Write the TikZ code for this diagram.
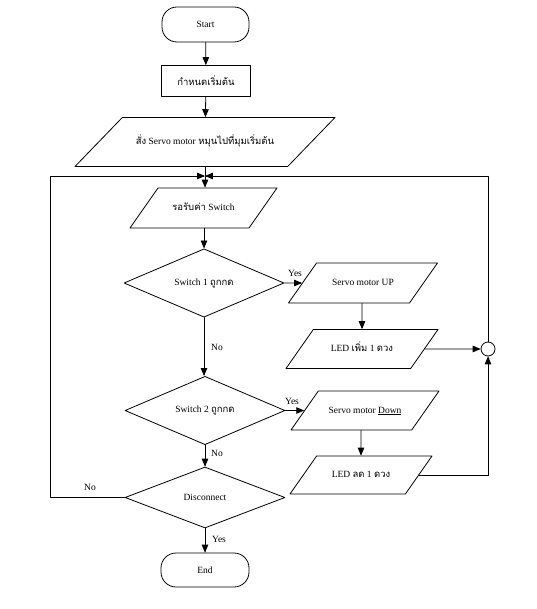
\documentclass[tikz,border=0pt]{standalone}
\usepackage{fontspec}
\setmainfont{Liberation Serif}
\newfontfamily\thaifont[Script=Thai]{Loma}
\newcommand{\thai}[1]{{\thaifont #1}}
\usetikzlibrary{arrows,shapes.geometric}

\begin{document}
\begin{tikzpicture}[line cap=round,line join=round,>=triangle 45,line width=0.8pt,
		font=\fontsize{9.5}{11}\selectfont,
		term/.style={draw,rounded corners=15pt,minimum width=87pt,minimum height=35pt},
		proc/.style={draw,minimum width=89pt,minimum height=31pt},
		io/.style={draw,trapezium,trapezium left angle=55,trapezium right angle=125,trapezium stretches body,
			minimum width=148pt,text height=7pt,text depth=2pt,inner xsep=0pt,inner ysep=15.5pt},
		dec/.style={draw,diamond,minimum width=160pt,minimum height=60pt,inner sep=0pt}]
		\useasboundingbox (0pt,0pt) rectangle (536pt,-609pt);
		% main column
		\node[term] (start) at (205.5pt,-24.5pt) {Start};
		\node[proc] (init) at (206pt,-81pt) {\thai{กำหนดเริ่มต้น}};
		\node[io,minimum width=260pt,inner ysep=20pt,trapezium left angle=46,trapezium right angle=134] (home) at (205pt,-142pt)
			{\thai{สั่ง} Servo motor \thai{หมุนไปที่มุมเริ่มต้น}};
		\node[io,minimum width=147pt] (wait) at (203.5pt,-208pt) {\thai{รอรับค่า} Switch};
		\node[dec] (sw1) at (204pt,-283pt) {Switch 1 \thai{ถูกกด}};
		\node[dec,minimum height=61pt] (sw2) at (205pt,-410.5pt) {Switch 2 \thai{ถูกกด}};
		\node[dec,minimum height=61pt] (disc) at (205pt,-497.5pt) {Disconnect};
		\node[term,minimum width=88pt,minimum height=34pt] (end) at (205pt,-570pt) {End};
		% right column
		\node[io,minimum width=149pt] (up) at (363pt,-283pt) {Servo motor UP};
		\node[io,minimum width=152pt,inner ysep=15pt] (ledup) at (362pt,-349pt) {LED \thai{เพิ่ม} 1 \thai{ดวง}};
		\node[io,inner ysep=15pt] (down) at (365pt,-410.5pt) {Servo motor \underline{Down}};
		\node[io,minimum width=142pt,inner ysep=14.5pt] (leddown) at (361pt,-475pt) {LED \thai{ลด} 1 \thai{ดวง}};
		\node[draw,circle,minimum size=14pt,inner sep=0pt] (jn) at (488pt,-349pt) {};
		% loop points
		\coordinate (merge) at (205pt,-176pt);
		\coordinate (loopL) at (50pt,-176pt);
		\coordinate (loopR) at (488pt,-176pt);
		% labels
		\node (yes1) at (295pt,-273pt) {Yes};
		\node (no1) at (217pt,-347pt) {No};
		\node (yes2) at (292pt,-401pt) {Yes};
		\node (no2) at (217pt,-453pt) {No};
		\node (no3) at (90pt,-487pt) {No};
		\node (yes3) at (219pt,-539pt) {Yes};
		% connectors
		\draw[->] (start) -- (init);
		\draw[->] (init) -- (home);
		\draw[->] (home.south -| merge) -- (wait.north -| merge);
		\draw[->] (wait.south -| sw1) -- (sw1);
		\draw[->] (sw1) -- (sw1 |- sw2.north);
		\draw[->] (sw2) -- (disc);
		\draw[->] (disc) -- (end);
		\draw[->] (sw1.east) -- (up.west);
		\draw[->] (sw2.east) -- (down.west);
		\draw[->] (up.south -| ledup) -- (ledup);
		\draw[->] (down.south -| leddown) -- (leddown);
		\draw[->] (ledup.east) -- (jn);
		\draw[->] (leddown.east) -| (jn.south);
		\draw[->] (jn.north) -- (loopR) -- (merge);
		\draw[->] (disc.west) -| (loopL) -- (merge);
\end{tikzpicture}
\end{document}
